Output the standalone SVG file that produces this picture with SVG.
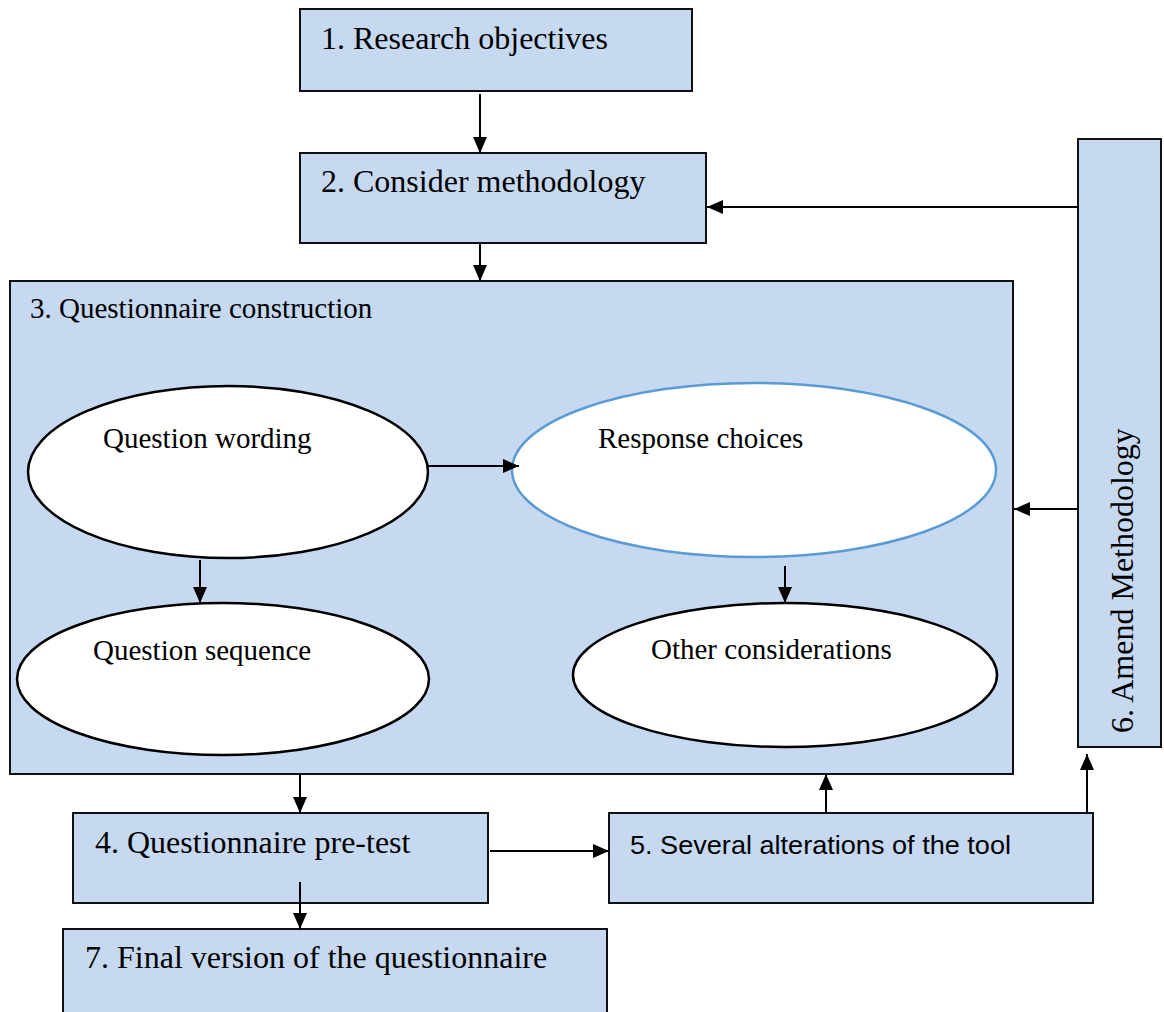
<svg xmlns="http://www.w3.org/2000/svg" width="1164" height="1012" viewBox="0 0 1164 1012">
<style>
.box{fill:#C6D9F1;stroke:#111;stroke-width:2}
.ell{fill:#fff;stroke:#000;stroke-width:2.5}
.ellb{fill:#fff;stroke:#5B9BD5;stroke-width:2.5}
.t{font-family:"Liberation Serif","Times New Roman",serif;font-size:32px;fill:#000}
.ts{font-family:"Liberation Serif","Times New Roman",serif;font-size:29px;fill:#000}
.tc{font-family:"Liberation Sans",Arial,sans-serif;font-size:26px;fill:#000}
.c{stroke:#000;stroke-width:2;fill:none;marker-end:url(#ah)}
</style>
<defs>
<marker id="ah" markerUnits="userSpaceOnUse" markerWidth="16" markerHeight="14" refX="16" refY="7" orient="auto">
<path d="M0,0 L16,7 L0,14 Z" fill="#000"/>
</marker>
</defs>
<rect width="1164" height="1012" fill="#fff"/>
<g id="n3">
<rect class="box" x="10" y="281" width="1003" height="493"/>
<text class="ts" x="30" y="318">3. Questionnaire construction</text>
</g>
<g id="n1">
<rect class="box" x="300" y="9" width="392" height="82"/>
<text class="t" x="321" y="49">1. Research objectives</text>
</g>
<g id="n2">
<rect class="box" x="300" y="153" width="406" height="90"/>
<text class="t" x="321" y="192">2. Consider methodology</text>
</g>
<g id="e1">
<ellipse class="ell" cx="228" cy="472" rx="200" ry="86"/>
<text class="ts" x="103" y="448">Question wording</text>
</g>
<g id="e2">
<ellipse class="ellb" cx="754" cy="470" rx="242" ry="87"/>
<text class="ts" x="598" y="448">Response choices</text>
</g>
<g id="e3">
<ellipse class="ell" cx="223" cy="679" rx="206" ry="76"/>
<text class="ts" x="93" y="660">Question sequence</text>
</g>
<g id="e4">
<ellipse class="ell" cx="785" cy="675" rx="212" ry="72"/>
<text class="ts" x="651" y="659">Other considerations</text>
</g>
<g id="n6">
<rect class="box" x="1078" y="139" width="83" height="608"/>
<text class="t" transform="translate(1133,733) rotate(-90)" x="0" y="0">6. Amend Methodology</text>
</g>
<g id="n4">
<rect class="box" x="73" y="813" width="415" height="90"/>
<text class="t" x="95" y="853">4. Questionnaire pre-test</text>
</g>
<g id="n5">
<rect class="box" x="609" y="813" width="484" height="90"/>
<text class="tc" x="630" y="854" textLength="381" lengthAdjust="spacingAndGlyphs">5. Several alterations of the tool</text>
</g>
<g id="n7">
<rect class="box" x="63" y="929" width="544" height="100"/>
<text class="t" x="85" y="968">7. Final version of the questionnaire</text>
</g>
<g id="connectors">
<line class="c" x1="480" y1="94" x2="480" y2="153"/>
<line class="c" x1="480" y1="243" x2="480" y2="281"/>
<line class="c" x1="1078" y1="207" x2="707" y2="207"/>
<line class="c" x1="1078" y1="509" x2="1014" y2="509"/>
<line class="c" x1="428" y1="466" x2="519" y2="466"/>
<line class="c" x1="200" y1="560" x2="200" y2="603"/>
<line class="c" x1="785" y1="566" x2="785" y2="603"/>
<line class="c" x1="300" y1="774" x2="300" y2="813"/>
<line class="c" x1="490" y1="851" x2="609" y2="851"/>
<line class="c" x1="826" y1="813" x2="826" y2="774"/>
<line class="c" x1="1087" y1="813" x2="1087" y2="754"/>
<line class="c" x1="300" y1="882" x2="300" y2="929"/>
</g>
</svg>
